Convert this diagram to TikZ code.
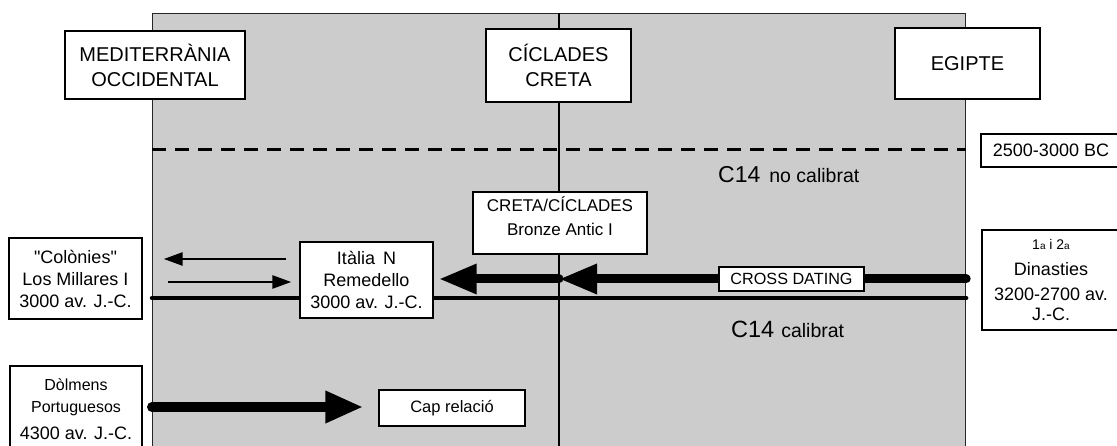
\documentclass[tikz,border=0pt]{standalone}
\usepackage{fontspec}
\setmainfont{Liberation Sans}
\newfontfamily\plainfont{Liberation Sans}
\usetikzlibrary{arrows.meta}
\pgfdeclarelayer{back}
\pgfdeclarelayer{mid}
\pgfsetlayers{back,mid,main}
\definecolor{panelgray}{RGB}{204,204,204}
\begin{document}
\begin{tikzpicture}[x=1pt,y=-1pt,
  box/.style={draw=black, fill=white, line width=1.4pt, inner sep=0pt, align=center},
  hbox/.style={box, line width=2.8pt, font=\fontsize{20}{25}\selectfont},
  txt/.style={inner sep=0pt, align=center},
  bigarr/.style={line width=9pt, line cap=round, -{Triangle[length=38pt, width=28pt]}},
  thinarr/.style={line width=2.6pt, -{Triangle[length=19pt, width=13pt]}},
  rule/.style={line width=4.5pt, line cap=round}]
\useasboundingbox (0,0) rectangle (1117,446);

% gray panel and its divider
\begin{pgfonlayer}{back}
\node[draw=black!85, fill=panelgray, line width=1.2pt, inner sep=0pt,
      minimum width=813pt, minimum height=445pt, anchor=north west] (panel) at (152,13) {};
\draw[line width=1.2pt] (panel.north -| 559,0) -- (panel.south -| 559,0);
\end{pgfonlayer}

% column headers
\node[hbox, minimum width=180pt, minimum height=68pt] (med) at (155,65) {MEDITERRÀNIA\\OCCIDENTAL};
\node[hbox, minimum width=145pt, minimum height=73pt] (cic) at (558.5,65.5) {CÍCLADES\\CRETA};
\node[hbox, minimum width=145pt, minimum height=71pt] (egi) at (967.5,63.5) {EGIPTE};

% right-hand date box
\node[box, minimum width=140pt, minimum height=33pt, font=\fontsize{18}{22}\selectfont] (bc) at (1051,150.5) {2500-3000 BC};

% C14 labels
\node[txt, anchor=base west] (nocal) at (718,183)
  {\fontsize{23}{23}\selectfont C14\hspace{9pt}{\fontsize{19.5}{20}\selectfont no calibrat}};
\node[txt, anchor=base west] (cal) at (731,337.5)
  {\fontsize{23.5}{24}\selectfont C14\hspace{7pt}{\fontsize{19.5}{20}\selectfont calibrat}};

% Creta box
\node[box, minimum width=174pt, minimum height=62pt] (cre) at (560,223) {};
\node[txt, font=\fontsize{17}{24}\selectfont] (cretext) at (560,216) {CRETA/CÍCLADES\\Bronze Antic I};

% Italy, colonies
\node[box, minimum width=133pt, minimum height=76pt, font=\fontsize{18}{22}\selectfont] (ita) at (366.5,280)
  {Itàlia\hspace{8pt}N\\Remedello\\3000 av. J.-C.};
\node[box, minimum width=133pt, minimum height=81pt, font=\fontsize{18}{22}\selectfont] (col) at (75.5,278.5)
  {{\plainfont "}Colònies{\plainfont "}\\Los Millares I\\3000 av. J.-C.};

% Egypt dynasties
\node[box, minimum width=138pt, minimum height=100pt, font=\fontsize{18}{25}\selectfont] (dyn) at (1051,280)
  {{\fontsize{14}{14}\selectfont 1{\fontsize{10}{10}\selectfont a} i 2{\fontsize{10}{10}\selectfont a}}\\[1pt]Dinasties\\3200-2700 av.\\[-5pt]J.-C.};

% cross dating
\node[box, minimum width=145pt, minimum height=24pt, font=\fontsize{16.2}{18}\selectfont] (cross) at (791.5,279) {CROSS DATING};

% dolmens and no relation
\node[box, minimum width=132pt, minimum height=86pt, font=\fontsize{16}{22}\selectfont] (dol) at (76,409)
  {Dòlmens\\Portuguesos\\[4.5pt]{\fontsize{18}{22}\selectfont 4300 av. J.-C.}};
\node[box, minimum width=146pt, minimum height=36pt, font=\fontsize{16.5}{18}\selectfont] (cap) at (452,408) {Cap relació};

\coordinate (junc) at (559,279);

\begin{pgfonlayer}{mid}
\draw[line width=3pt, dash pattern=on 14pt off 9pt] (panel.west |- 0,150) -- (panel.east |- 0,150);
\draw[rule] (panel.west |- 0,298) -- (panel.east |- 0,298);
\draw[bigarr] (panel.east |- junc) -- (junc);
\draw[bigarr, shorten >=5pt] (junc) -- (ita.east |- junc);
\draw[thinarr, shorten <=13pt, shorten >=21pt] (ita.west |- 0,259) -- (col.east |- 0,259);
\draw[thinarr, shorten <=25pt, shorten >=8pt] (col.east |- 0,282) -- (ita.west |- 0,282);
\draw[line width=10pt, line cap=round, -{Triangle[length=38pt, width=30pt]}, shorten >=15pt]
  (panel.west |- 0,407) -- (cap.west |- 0,407);
\end{pgfonlayer}
\end{tikzpicture}
\end{document}
